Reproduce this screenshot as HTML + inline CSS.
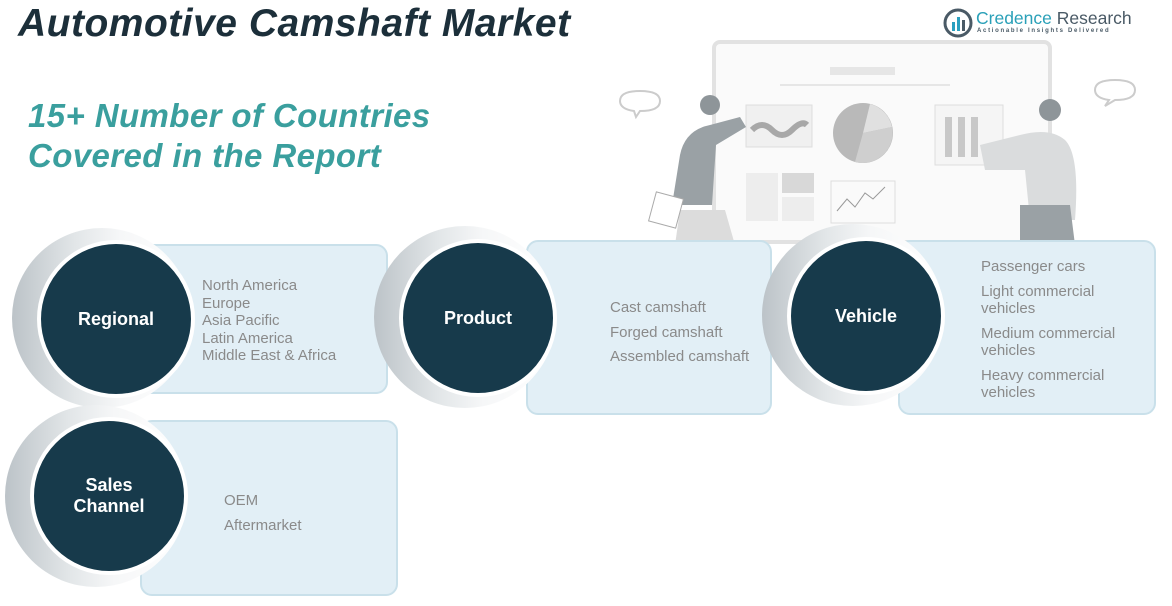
<!DOCTYPE html>
<html><head><meta charset="utf-8"><style>
*{margin:0;padding:0;box-sizing:border-box}
body{width:1172px;height:606px;background:#fff;position:relative;overflow:hidden;font-family:"Liberation Sans",sans-serif}
.a{position:absolute}
.title{left:18px;top:2px;font-size:39px;font-weight:bold;font-style:italic;color:#1c2f3a;letter-spacing:0.5px}
.sub{left:28px;font-size:33px;font-weight:bold;font-style:italic;color:#3a9f9e;letter-spacing:0.4px}
.box{position:absolute;background:#e2eff6;border:2px solid #c9e0ea;border-radius:12px}
.ring{position:absolute;border-radius:50%;background:linear-gradient(90deg,#bcc3c8 0%,#e2e6e8 35%,#f6f7f8 60%,#fff 100%)}
.dot{position:absolute;border-radius:50%;background:#173a4b;border:4px solid #fff;color:#fff;font-weight:bold;font-size:18px;display:flex;align-items:center;justify-content:center;text-align:center;line-height:21px}
.txt{position:absolute;color:#8a8a8a;font-size:15px;line-height:17.5px}
</style></head><body>
<div class="a title">Automotive Camshaft Market</div>
<div class="a sub" style="top:97px">15+ Number of Countries</div>
<div class="a sub" style="top:137px">Covered in the Report</div>

<!-- logo -->
<svg class="a" style="left:943px;top:8px" width="30" height="30" viewBox="0 0 30 30"><circle cx="15" cy="15" r="13" fill="none" stroke="#4a5a66" stroke-width="3"/><rect x="9" y="14" width="3" height="9" fill="#2aa0c0"/><rect x="14" y="9" width="3" height="14" fill="#2aa0c0"/><rect x="19" y="12" width="3" height="11" fill="#4a5a66"/></svg>
<div class="a" style="left:976px;top:8px;font-size:17.5px;color:#2aa0b8">Credence <span style="color:#4a5a66">Research</span></div>
<div class="a" style="left:977px;top:28px;font-size:6px;letter-spacing:1.7px;color:#4a5a66;font-weight:bold">Actionable Insights Delivered</div>

<!-- illustration -->
<svg class="a" style="left:600px;top:35px" width="572" height="210" viewBox="0 0 572 210">
<rect x="114" y="7" width="336" height="200" rx="6" fill="#fafafa" stroke="#e2e2e2" stroke-width="4"/>
<rect x="230" y="32" width="65" height="8" fill="#e6e6e6"/>
<line x1="180" y1="50" x2="350" y2="50" stroke="#e6e6e6" stroke-width="2"/>
<rect x="146" y="70" width="66" height="42" fill="#f0f0f0" stroke="#ddd"/>
<path d="M152 95 q10 -10 20 0 t20 0 t15 -5" stroke="#a8a8a8" stroke-width="6" fill="none"/>
<circle cx="263" cy="98" r="30" fill="#b9b9b9"/><path d="M263 98 L270 69 A30 30 0 0 1 292 92Z" fill="#e0e0e0"/><path d="M263 98 L292 92 A30 30 0 0 1 255 127Z" fill="#cfcfcf"/>
<rect x="146" y="138" width="32" height="48" fill="#ededed"/><rect x="182" y="138" width="32" height="20" fill="#d8d8d8"/><rect x="182" y="162" width="32" height="24" fill="#ededed"/>
<rect x="231" y="146" width="64" height="42" fill="#fafafa" stroke="#ddd"/><path d="M237 176 l10 -12 l8 8 l10 -14 l8 6 l12 -12" stroke="#999" fill="none"/>
<rect x="335" y="70" width="68" height="60" fill="#f5f5f5" stroke="#ddd"/>
<rect x="345" y="82" width="7" height="40" fill="#c8c8c8"/><rect x="358" y="82" width="7" height="40" fill="#c8c8c8"/><rect x="371" y="82" width="7" height="40" fill="#c8c8c8"/>
<path d="M20 66 q0-10 20-10 q20 0 20 10 q0 10 -20 10 l-4 6 -2-6 q-14-2-14-10z" fill="#fff" stroke="#ccc" stroke-width="2"/>
<path d="M495 55 q0-10 20-10 q20 0 20 10 q0 10 -20 10 l-10 6 4-6 q-14-2-14-10z" fill="#fff" stroke="#ccc" stroke-width="2"/>
<circle cx="110" cy="70" r="10" fill="#8e9599"/>
<path d="M80 120 q5-25 30-30 l30-8 l6 10 -30 18 l-4 60 h-40z" fill="#9aa1a5"/>
<path d="M80 175 h45 l10 35 h-60z" fill="#dcdcdc"/>
<rect x="52" y="160" width="28" height="30" fill="#fff" stroke="#aaa" transform="rotate(15 66 175)"/>
<circle cx="450" cy="75" r="11" fill="#8e9599"/>
<path d="M380 110 l40 -10 q30 -8 45 5 q15 15 10 80 h-45 l-5-50 -40 0z" fill="#dadcdd"/>
<path d="M420 170 h50 l5 40 h-55z" fill="#9aa1a5"/>
</svg>

<!-- Regional -->
<div class="box" style="left:140px;top:244px;width:248px;height:150px"></div>
<div class="ring" style="left:12px;top:228px;width:180px;height:180px"></div>
<div class="dot" style="left:37px;top:240px;width:158px;height:158px">Regional</div>
<div class="txt" style="left:202px;top:277px">North America<br>Europe<br>Asia Pacific<br>Latin America<br>Middle East &amp; Africa</div>

<!-- Product -->
<div class="box" style="left:526px;top:240px;width:246px;height:175px"></div>
<div class="ring" style="left:374px;top:226px;width:182px;height:182px"></div>
<div class="dot" style="left:399px;top:239px;width:158px;height:158px">Product</div>
<div class="txt" style="left:610px;top:296px;line-height:24.7px">Cast camshaft<br>Forged camshaft<br>Assembled camshaft</div>

<!-- Vehicle -->
<div class="box" style="left:898px;top:240px;width:258px;height:175px"></div>
<div class="ring" style="left:762px;top:224px;width:182px;height:182px"></div>
<div class="dot" style="left:787px;top:237px;width:158px;height:158px">Vehicle</div>
<div class="txt" style="left:981px;top:258px">Passenger cars<div style="height:7px"></div>Light commercial<br>vehicles<div style="height:7px"></div>Medium commercial<br>vehicles<div style="height:7px"></div>Heavy commercial<br>vehicles</div>

<!-- Sales Channel -->
<div class="box" style="left:140px;top:420px;width:258px;height:176px"></div>
<div class="ring" style="left:5px;top:405px;width:182px;height:182px"></div>
<div class="dot" style="left:30px;top:417px;width:158px;height:158px">Sales<br>Channel</div>
<div class="txt" style="left:224px;top:489px;line-height:24.7px">OEM<br>Aftermarket</div>
</body></html>
